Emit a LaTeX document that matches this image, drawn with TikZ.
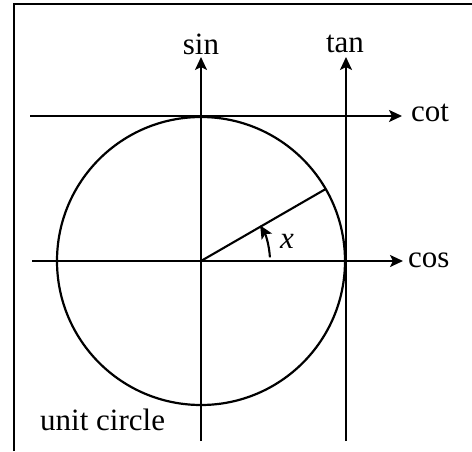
\documentclass[tikz,border=0pt]{standalone}
\usepackage{fontspec}
\setmainfont{Liberation Serif}
\usetikzlibrary{arrows.meta,calc}
\begin{document}
\begin{tikzpicture}[x=1pt,y=1pt,
  axis/.style={line width=2.1pt,-{Stealth[length=13pt,width=12pt,inset=3pt]}},
  rayline/.style={line width=2.1pt},
  lbl/.style={inner sep=0pt,font=\fontsize{31}{37}\selectfont}]
\useasboundingbox (0,0) rectangle (472,451);
% frame
\draw[line width=2.2pt] (14,0) -- (14,447) -- (473,447);
\coordinate (O) at (201,190);
% circle
\draw[line width=2.2pt] (O) circle (144);
% axes
\coordinate (cosS) at (32,190);
\coordinate (cosE) at (403,190);
\coordinate (cotS) at (30,335);
\coordinate (cotE) at (402,335);
\coordinate (sinS) at (201,10);
\coordinate (sinE) at (201,394);
\coordinate (tanS) at (346,10);
\coordinate (tanE) at (346,394);
\draw[axis] (cosS) -- (cosE);
\draw[axis] (cotS) -- (cotE);
\draw[axis] (sinS) -- (sinE);
\draw[axis] (tanS) -- (tanE);
\node[lbl,anchor=base west] (cos) at (408,184) {cos};
\node[lbl,anchor=base west] (cot) at (411,330) {cot};
\node[lbl,anchor=base] (sin) at (201,396) {sin};
\node[lbl,anchor=base] (tan) at (345,398) {tan};
% ray
\coordinate (P) at ($(O)+(30:144)$);
\draw[rayline] (O) -- (P);
% angle arc
\draw[line width=2.1pt,-{Stealth[length=13pt,width=12pt,inset=3pt]}] ($(O)+(3:69)$) arc (3:31:69);
\node[lbl,anchor=base] (x) at (287,203) {\textit{x}};
\node[lbl,anchor=base west] (uc) at (40,21) {unit circle};
\end{tikzpicture}
\end{document}
